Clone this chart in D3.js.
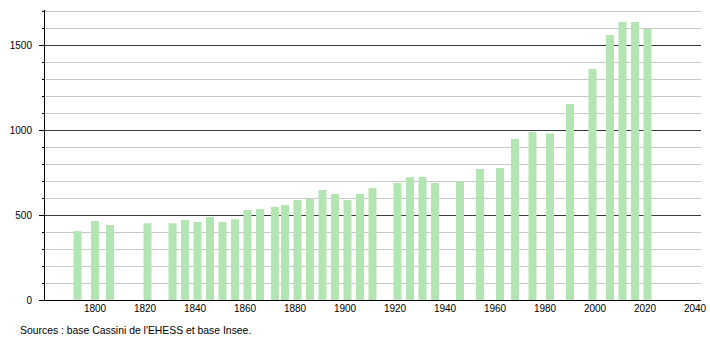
<!DOCTYPE html>
<html>
<head>
<meta charset="utf-8">
<script src="https://cdn.jsdelivr.net/npm/d3@7"></script>
<style>
  body { margin: 0; background: #fff; }
  text { font-family: "Liberation Sans", Arial, sans-serif; }
</style>
</head>
<body>
<div id="container"></div>
<script>
// census years and population
const years = [1793, 1800, 1806, 1821, 1831, 1836, 1841, 1846, 1851, 1856,
  1861, 1866, 1872, 1876, 1881, 1886, 1891, 1896, 1901, 1906, 1911,
  1921, 1926, 1931, 1936, 1946, 1954, 1962, 1968, 1975, 1982, 1990,
  1999, 2006, 2011, 2016, 2021];
const population = [405, 465, 441, 451, 451, 471, 459, 488, 459, 475,
  529, 535, 547, 559, 588, 594, 647, 624, 588, 624, 659,
  688, 722, 724, 688, 700, 771, 776, 947, 988, 980, 1153,
  1359, 1559, 1635, 1635, 1594];
const xTicks = [1800, 1820, 1840, 1860, 1880, 1900, 1920, 1940, 1960, 1980, 2000, 2020, 2040];
const yMajor = [0, 500, 1000, 1500];
const yMinor = d3.range(100, 1701, 100).filter(v => v % 500 !== 0);
const source = "Sources : base Cassini de l'EHESS et base Insee.";

const width = 710;
const height = 340;
const margin = { top: 11, bottom: 40, left: 44, right: 9 };

const svg = d3.select('#container')
    .append('svg')
    .attr('width', width)
    .attr('height', height);

const x = d3.scaleLinear()
    .domain([1779.6, 2042.4])
    .range([margin.left, width - margin.right]);

const y = d3.scaleLinear()
    .domain([0, 1700])
    .range([height - margin.bottom, margin.top]);

// grid lines
svg.append("g")
    .selectAll("line")
    .data(yMinor)
    .join("line")
    .attr("x1", margin.left)
    .attr("x2", width - margin.right)
    .attr("y1", d => y(d) + 0.5)
    .attr("y2", d => y(d) + 0.5)
    .attr("stroke", "#c8c8c8");

svg.append("g")
    .selectAll("line")
    .data(yMajor.filter(v => v > 0))
    .join("line")
    .attr("x1", margin.left)
    .attr("x2", width - margin.right)
    .attr("y1", d => y(d) + 0.5)
    .attr("y2", d => y(d) + 0.5)
    .attr("stroke", "#3a3a3a");

// bars
const data = years.map((yr, i) => ({ year: yr, pop: population[i] }));
const barW = x(1803.2) - x(1800);

svg.append("g")
    .selectAll("rect")
    .data(data)
    .join("rect")
    .attr("x", d => x(d.year) - barW / 2)
    .attr("y", d => y(d.pop))
    .attr("width", barW)
    .attr("height", d => y(0) - y(d.pop))
    .attr("fill", "#b2e5b2");

// y axis: line + ticks
const yAxis = svg.append("g");
yAxis.append("line")
    .attr("x1", margin.left + 0.5).attr("x2", margin.left + 0.5)
    .attr("y1", margin.top - 1).attr("y2", y(0))
    .attr("stroke", "#000");
yAxis.selectAll(".minor")
    .data(yMinor)
    .join("line")
    .attr("class", "minor")
    .attr("x1", margin.left - 2).attr("x2", margin.left)
    .attr("y1", d => y(d) + 0.5).attr("y2", d => y(d) + 0.5)
    .attr("stroke", "#000");
yAxis.selectAll(".major")
    .data(yMajor)
    .join("line")
    .attr("class", "major")
    .attr("x1", margin.left - 5).attr("x2", margin.left)
    .attr("y1", d => y(d) + 0.5).attr("y2", d => y(d) + 0.5)
    .attr("stroke", "#000");
yAxis.selectAll("text")
    .data(yMajor)
    .join("text")
    .attr("x", margin.left - 12)
    .attr("y", d => y(d) + 4)
    .attr("text-anchor", "end")
    .attr("font-size", "10px")
    .attr("fill", "#000")
    .text(d => d);

// x axis
const xAxis = svg.append("g");
xAxis.append("line")
    .attr("x1", margin.left - 5).attr("x2", width - margin.right)
    .attr("y1", y(0) + 0.5).attr("y2", y(0) + 0.5)
    .attr("stroke", "#000");
xAxis.selectAll("text")
    .data(xTicks)
    .join("text")
    .attr("x", d => x(d))
    .attr("y", y(0) + 12)
    .attr("text-anchor", "middle")
    .attr("font-size", "10px")
    .attr("fill", "#000")
    .text(d => d);

svg.append("text")
    .attr("x", 20)
    .attr("y", 334)
    .attr("font-size", "10.4px")
    .attr("fill", "#000")
    .text(source);
</script>
</body>
</html>
